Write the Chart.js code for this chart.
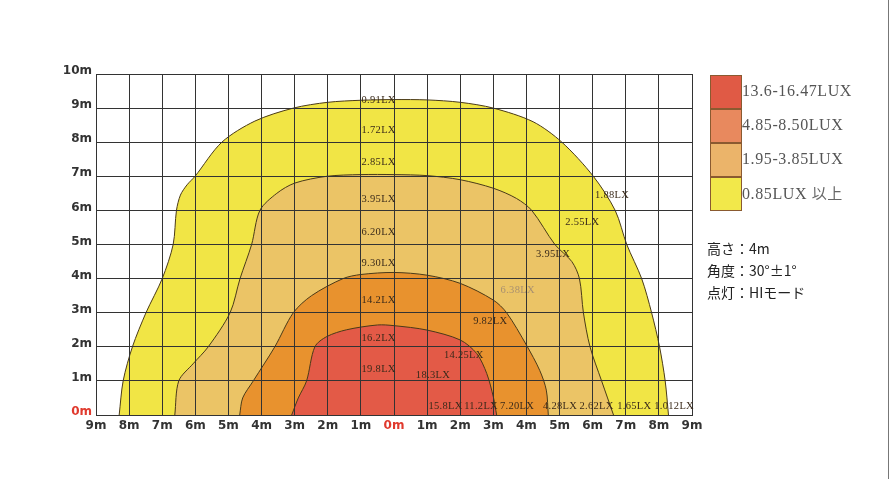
<!DOCTYPE html>
<html>
<head>
<meta charset="utf-8">
<script src="https://cdn.jsdelivr.net/npm/chart.js@4.4.0/dist/chart.umd.min.js"></script>
<style>
  html, body { margin: 0; padding: 0; background: #fff; }
  #wrap { position: relative; width: 892px; height: 479px; overflow: hidden; }
  #wrap canvas { position: absolute; left: 0; top: 0; }
  #edge { position: absolute; left: 888px; top: 0; width: 1px; height: 479px; background: #777; }
  .key { position: absolute; left: 710px; width: 32px; height: 34px; box-sizing: border-box; border: 1px solid #8a5a30; }
  .keytxt { position: absolute; left: 742px; font-family: "Liberation Serif", serif; font-size: 16px; letter-spacing: 0.6px; color: #555; line-height: 16px; }
  .info { position: absolute; left: 707px; font-family: "Noto Sans CJK JP", "Noto Sans", sans-serif; font-size: 14px; color: #222; line-height: 16px; }
</style>
</head>
<body>
<div id="wrap">
  <canvas id="lightChart" width="892" height="479"></canvas>
  <div id="edge"></div>
  <div class="key" style="top:75px;background:#E05A45"></div>
  <div class="key" style="top:109px;background:#E8895E"></div>
  <div class="key" style="top:143px;background:#EBB46A"></div>
  <div class="key" style="top:177px;height:34px;background:#F2E84A"></div>
  <div class="keytxt" style="top:83px">13.6-16.47LUX</div>
  <div class="keytxt" style="top:117px">4.85-8.50LUX</div>
  <div class="keytxt" style="top:151px">1.95-3.85LUX</div>
  <div class="keytxt" style="top:185px">0.85LUX <span style="font-family:'Noto Sans CJK JP';font-size:15px;color:#666">以上</span></div>
  <div class="info" style="top:240px">高さ：4m</div>
  <div class="info" style="top:262px">角度：30°±1°</div>
  <div class="info" style="top:284px">点灯：HIモード</div>
</div>
<script>
// contour outlines, metres from the lamp (x) and forward distance (y)
const yellowX = [-8.30, -8.18, -7.90, -7.49, -7.00, -6.67, -6.57, -6.45, -6.25, -6.01, -5.20, -4.20, -3.04, -2.00, -1.00, 0.00, 1.00, 2.00, 3.00, 4.20, 5.07, 6.02, 6.68, 7.03, 7.48, 7.78, 8.02, 8.19, 8.29];
const yellowY = [0.00, 1.00, 2.00, 3.00, 4.00, 5.00, 6.00, 6.45, 6.75, 7.00, 8.00, 8.62, 9.00, 9.17, 9.23, 9.25, 9.24, 9.17, 9.00, 8.60, 8.00, 7.00, 6.00, 5.00, 4.00, 3.00, 2.00, 1.00, 0.00];

const tanX = [-6.62, -6.50, -6.07, -5.61, -4.95, -4.65, -4.30, -4.05, -3.54, -3.00, -2.03, -1.00, 0.00, 1.00, 2.00, 3.00, 3.70, 4.16, 4.86, 5.37, 5.60, 5.72, 5.92, 6.27, 6.63];
const tanY = [0.00, 1.00, 1.50, 2.00, 3.00, 4.00, 5.00, 6.00, 6.50, 6.80, 7.00, 7.05, 7.05, 7.02, 6.90, 6.65, 6.35, 6.00, 5.00, 4.50, 4.00, 3.00, 2.00, 1.00, 0.00];

const orangeX = [-4.66, -4.57, -4.25, -3.60, -3.04, -2.49, -1.54, -1.00, 0.00, 1.00, 2.00, 3.00, 3.40, 4.00, 4.40, 4.60, 4.66];
const orangeY = [0.00, 0.50, 1.00, 2.00, 3.00, 3.50, 4.00, 4.12, 4.18, 4.10, 3.86, 3.37, 3.00, 2.05, 1.31, 0.73, 0.00];

const redX = [-3.09, -2.89, -2.64, -2.39, -2.03, -1.43, -0.50, 0.00, 1.00, 2.00, 2.50, 2.80, 3.00, 3.10];
const redY = [0.00, 0.50, 1.00, 2.00, 2.30, 2.50, 2.64, 2.62, 2.49, 2.20, 1.80, 1.22, 0.53, 0.00];

// measured values written on the map
const luxText = ['0.91LX', '1.72LX', '2.85LX', '3.95LX', '6.20LX', '9.30LX', '14.2LX', '16.2LX', '19.8LX',
                 '1.88LX', '2.55LX', '3.95LX', '6.38LX', '9.82LX', '14.25LX', '18.3LX',
                 '15.8LX', '11.2LX', '7.20LX', '4.28LX', '2.62LX', '1.65LX', '1.012LX'];
const luxX = [-0.98, -0.98, -0.98, -0.98, -0.98, -0.98, -0.98, -0.98, -0.98,
              6.07, 5.17, 4.29, 3.22, 2.39, 1.51, 0.66,
              1.04, 2.12, 3.20, 4.50, 5.60, 6.74, 7.86];
const luxY = [9.23, 8.34, 7.40, 6.34, 5.37, 4.46, 3.37, 2.26, 1.34,
              6.43, 5.66, 4.70, 3.67, 2.74, 1.76, 1.17,
              0.27, 0.27, 0.27, 0.27, 0.27, 0.27, 0.27];

const xTicks = [-9, -8, -7, -6, -5, -4, -3, -2, -1, 0, 1, 2, 3, 4, 5, 6, 7, 8, 9];
const yTicks = [0, 1, 2, 3, 4, 5, 6, 7, 8, 9, 10];

function toPoints(xs, ys) {
    return xs.map((x, i) => ({ x: x, y: ys[i] }));
}

function zone(label, xs, ys, color, order) {
    return {
        label: label,
        data: toPoints(xs, ys),
        showLine: true,
        fill: 'origin',
        backgroundColor: color,
        borderColor: '#4a3a18',
        borderWidth: 1,
        pointRadius: 0,
        tension: 0.3,
        order: order
    };
}

// grid sits on top of the coloured zones, like the original print
const gridOnTop = {
    id: 'gridOnTop',
    afterDatasetsDraw(chart) {
        const ctx = chart.ctx;
        ctx.save();
        chart.scales.x.drawGrid(chart.chartArea);
        chart.scales.y.drawGrid(chart.chartArea);
        ctx.restore();
    }
};

const luxLabels = {
    id: 'luxLabels',
    afterDraw(chart) {
        const ctx = chart.ctx;
        const xs = chart.scales.x, ys = chart.scales.y;
        ctx.save();
        ctx.font = '10.5px "Liberation Serif", serif';
        ctx.letterSpacing = '0.3px';
        ctx.textBaseline = 'middle';
        ctx.textAlign = 'left';
        luxText.forEach((t, i) => {
            ctx.fillStyle = t === '6.38LX' ? '#a89070' : '#3a2a1a';
            ctx.fillText(t, xs.getPixelForValue(luxX[i]), ys.getPixelForValue(luxY[i]));
        });
        ctx.restore();
    }
};

const ctx = document.getElementById('lightChart').getContext('2d');
new Chart(ctx, {
    type: 'scatter',
    data: {
        datasets: [
            zone('13.6-16.47LUX', redX, redY, '#E35A47', 1),
            zone('4.85-8.50LUX', orangeX, orangeY, '#E8922E', 2),
            zone('1.95-3.85LUX', tanX, tanY, '#EBC466', 3),
            zone('0.85LUX 以上', yellowX, yellowY, '#F1E545', 4)
        ]
    },
    options: {
        responsive: false,
        animation: false,
        layout: { padding: { top: 74, right: 200, bottom: 0, left: 0 } },
        plugins: {
            legend: { display: false },
            tooltip: { enabled: false }
        },
        scales: {
            x: {
                type: 'linear',
                min: -9,
                max: 9,
                afterBuildTicks: scale => { scale.ticks = xTicks.map(v => ({ value: v })); },
                afterFit: scale => { scale.height = 64; },
                grid: { color: '#333', lineWidth: 1, drawTicks: false },
                border: { color: '#333', width: 1 },
                ticks: {
                    padding: 4,
                    font: { family: 'DejaVu Sans', size: 12, weight: 'bold' },
                    color: c => c.tick.value === 0 ? '#e03a2e' : '#333',
                    callback: v => Math.abs(v) + 'm'
                }
            },
            y: {
                type: 'linear',
                min: 0,
                max: 10,
                afterBuildTicks: scale => { scale.ticks = yTicks.map(v => ({ value: v })); },
                afterFit: scale => { scale.width = 96; },
                grid: { color: '#333', lineWidth: 1, drawTicks: false },
                border: { color: '#333', width: 1 },
                ticks: {
                    padding: 4,
                    labelOffset: -3,
                    font: { family: 'DejaVu Sans', size: 12, weight: 'bold' },
                    color: c => c.tick.value === 0 ? '#e03a2e' : '#333',
                    callback: v => v + 'm'
                }
            }
        }
    },
    plugins: [gridOnTop, luxLabels]
});
</script>
</body>
</html>
